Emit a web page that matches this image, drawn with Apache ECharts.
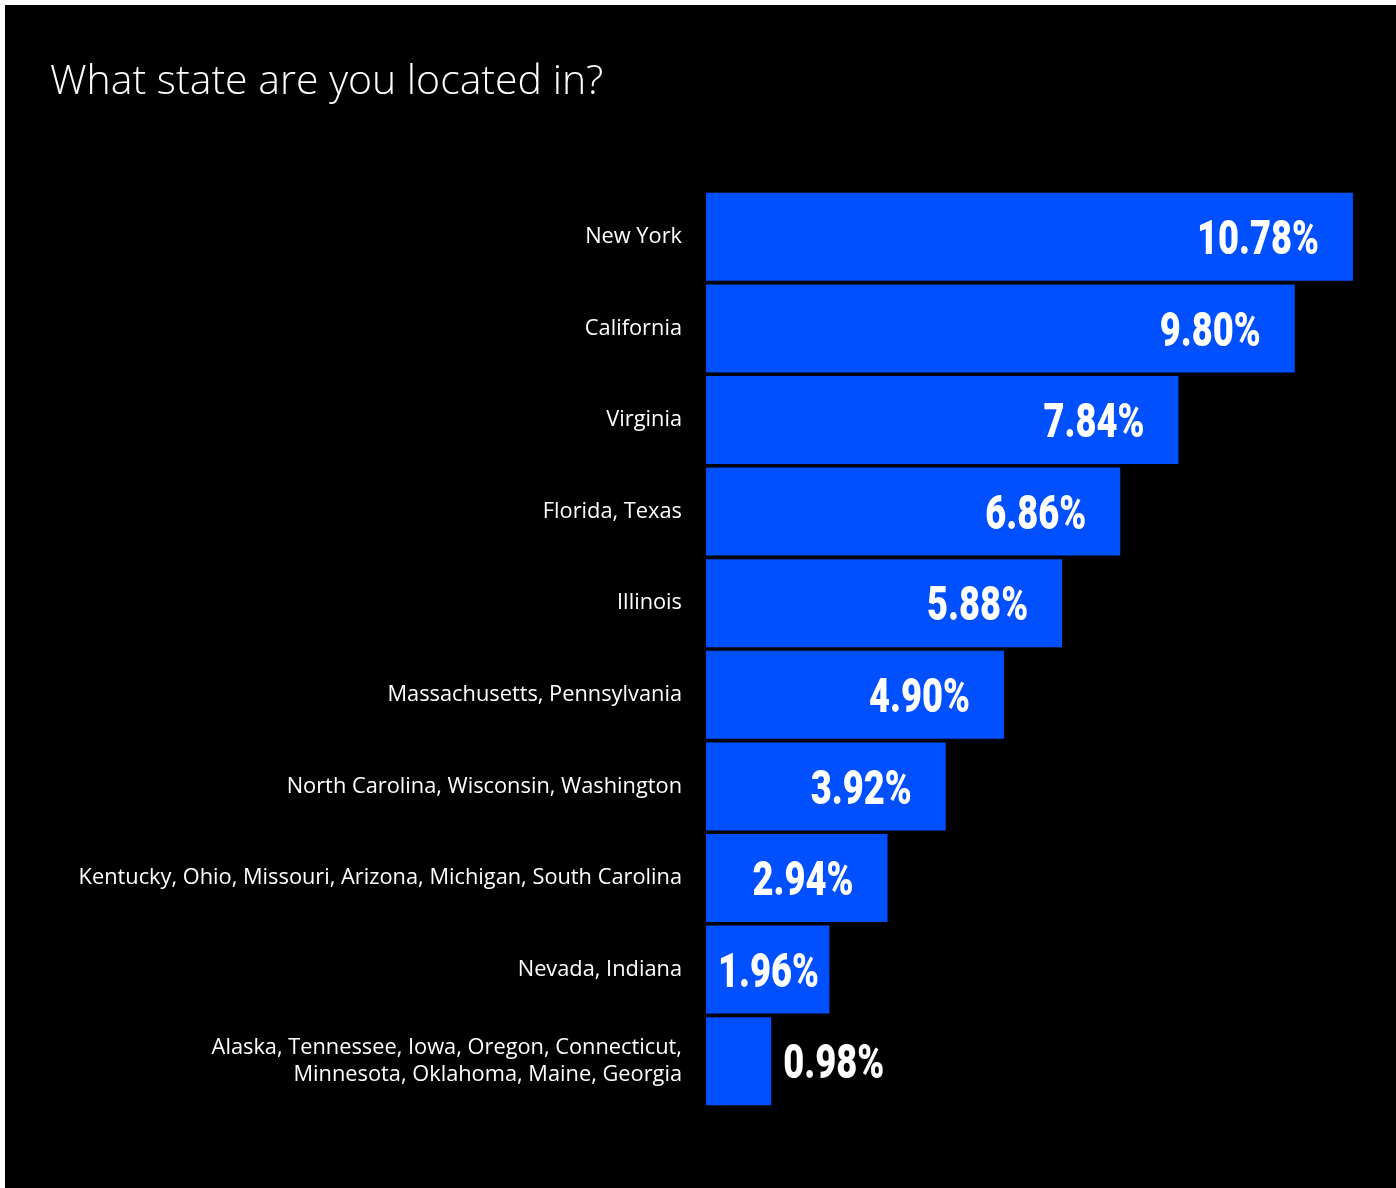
<!DOCTYPE html>
<html>
<head>
<meta charset="utf-8">
<script src="https://cdn.jsdelivr.net/npm/echarts@6/dist/echarts.min.js"></script>
<style>
  html, body { margin: 0; padding: 0; background: #ffffff; }
  #chart { position: absolute; left: 5px; top: 5px; width: 1391px; height: 1183px; background: #000000; }
</style>
</head>
<body>
<div id="chart"></div>
<script>
// Survey answers: share of respondents per state group
const states = [
  'New York',
  'California',
  'Virginia',
  'Florida, Texas',
  'Illinois',
  'Massachusetts, Pennsylvania',
  'North Carolina, Wisconsin, Washington',
  'Kentucky, Ohio, Missouri, Arizona, Michigan, South Carolina',
  'Nevada, Indiana',
  'Alaska, Tennessee, Iowa, Oregon, Connecticut,\nMinnesota, Oklahoma, Maine, Georgia'
];
const shares = [10.78, 9.80, 7.84, 6.86, 5.88, 4.90, 3.92, 2.94, 1.96, 0.98];

// bars reach a little left of the zero line
const LEAD = 0.118;
const BLUE = '#0050ff';

const chart = echarts.init(document.getElementById('chart'), null, { renderer: 'canvas' });

// Value labels: bold digits squeezed horizontally for a condensed look
function renderValueLabel(params, api) {
  const v = api.value(0);
  const idx = api.value(1);
  const end = api.coord([v, idx]);
  const start = api.coord([-LEAD, idx]);
  const y = end[1] + 5;
  let x, align;
  if (v < 1.5) {            // too short: label sits after the bar
    x = end[0] + 12; align = 'left';
  } else if (v < 2.5) {     // short: label starts near the bar's left edge
    x = start[0] + 12; align = 'left';
  } else {                  // inside, near the bar's end
    x = end[0] - 34; align = 'right';
  }
  return {
    type: 'text',
    x: x,
    y: y,
    scaleX: 0.74,
    style: {
      x: 0,
      y: 0,
      text: v.toFixed(2) + '%',
      fill: '#ffffff',
      fontFamily: 'Roboto, "Liberation Sans", sans-serif',
      fontWeight: 900,
      fontSize: 49,
      align: align,
      verticalAlign: 'middle'
    }
  };
}

chart.setOption({
  backgroundColor: '#000000',
  animation: false,
  title: {
    text: 'What state are you located in?',
    left: 40,
    top: 52,
    textStyle: {
      color: '#ffffff',
      fontFamily: '"Open Sans", "Lato", sans-serif',
      fontWeight: 300,
      fontSize: 41
    }
  },
  grid: { left: 701, top: 186, height: 916, right: 30 },
  xAxis: {
    type: 'value',
    min: -LEAD,
    max: 11,
    show: false
  },
  yAxis: {
    type: 'category',
    data: states,
    inverse: true,
    axisLine: { show: false },
    axisTick: { show: false },
    splitLine: { show: false },
    axisLabel: {
      color: '#ffffff',
      fontFamily: '"Open Sans", "Inter", sans-serif',
      fontSize: 21.8,
      margin: 24,
      align: 'right',
      lineHeight: 27
    }
  },
  series: [
    {
      // short lead segment left of zero
      type: 'bar',
      stack: 'share',
      barWidth: 88,
      data: shares.map(() => -LEAD),
      itemStyle: { color: BLUE },
      silent: true
    },
    {
      type: 'bar',
      stack: 'share',
      barWidth: 88,
      data: shares,
      itemStyle: { color: BLUE }
    },
    {
      type: 'custom',
      renderItem: renderValueLabel,
      clip: false,
      silent: true,
      encode: { x: 0, y: 1 },
      data: shares.map((v, i) => [v, i]),
      z: 5
    }
  ]
});
</script>
</body>
</html>
